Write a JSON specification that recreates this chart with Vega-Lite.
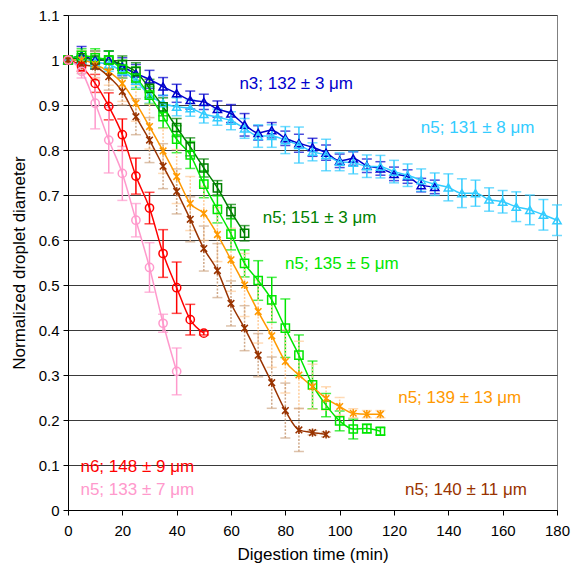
{
  "$schema": "https://vega.github.io/schema/vega-lite/v6.json",
  "width": 489,
  "height": 495,
  "autosize": {"type": "none"},
  "padding": {"left": 68, "top": 15, "right": 14, "bottom": 59},
  "background": "white",
  "config": {
    "font": "Liberation Sans",
    "view": {"stroke": "#808080", "strokeWidth": 1},
    "axis": {"labelFont": "Liberation Sans", "titleFont": "Liberation Sans", "labelFontSize": 15, "titleFontSize": 17, "titleFontWeight": "normal", "labelColor": "black", "titleColor": "black", "domainColor": "black", "tickColor": "black", "tickSize": 5}
  },
  "datasets": {
    "pts": [
      {"s":"B","t":0,"y":1.0,"e":0},{"s":"B","t":5,"y":1.01,"e":0.02},{"s":"B","t":10,"y":1.0,"e":0.02},{"s":"B","t":15,"y":1.0,"e":0.02},{"s":"B","t":20,"y":0.985,"e":0.02},{"s":"B","t":25,"y":0.97,"e":0.02},{"s":"B","t":30,"y":0.957,"e":0.02},{"s":"B","t":35,"y":0.941,"e":0.02},{"s":"B","t":40,"y":0.926,"e":0.02},{"s":"B","t":45,"y":0.911,"e":0.02},{"s":"B","t":50,"y":0.907,"e":0.017},{"s":"B","t":55,"y":0.891,"e":0.018},{"s":"B","t":60,"y":0.881,"e":0.02},{"s":"B","t":65,"y":0.856,"e":0.025},{"s":"B","t":70,"y":0.838,"e":0.016},{"s":"B","t":75,"y":0.844,"e":0.017},{"s":"B","t":80,"y":0.826,"e":0.016},{"s":"B","t":85,"y":0.815,"e":0.02},{"s":"B","t":90,"y":0.806,"e":0.02},{"s":"B","t":95,"y":0.794,"e":0.017},{"s":"B","t":100,"y":0.776,"e":0.015},{"s":"B","t":105,"y":0.781,"e":0.015},{"s":"B","t":110,"y":0.765,"e":0.015},{"s":"B","t":115,"y":0.759,"e":0.015},{"s":"B","t":120,"y":0.747,"e":0.015},{"s":"B","t":125,"y":0.741,"e":0.015},{"s":"B","t":130,"y":0.722,"e":0.015},{"s":"B","t":135,"y":0.718,"e":0.015},
      {"s":"C","t":0,"y":1.0,"e":0},{"s":"C","t":5,"y":1.0,"e":0.01},{"s":"C","t":10,"y":0.995,"e":0.012},{"s":"C","t":15,"y":0.99,"e":0.015},{"s":"C","t":20,"y":0.975,"e":0.015},{"s":"C","t":25,"y":0.954,"e":0.015},{"s":"C","t":30,"y":0.922,"e":0.018},{"s":"C","t":35,"y":0.904,"e":0.018},{"s":"C","t":40,"y":0.896,"e":0.02},{"s":"C","t":45,"y":0.893,"e":0.018},{"s":"C","t":50,"y":0.88,"e":0.02},{"s":"C","t":55,"y":0.873,"e":0.018},{"s":"C","t":60,"y":0.865,"e":0.02},{"s":"C","t":65,"y":0.848,"e":0.022},{"s":"C","t":70,"y":0.831,"e":0.025},{"s":"C","t":75,"y":0.831,"e":0.025},{"s":"C","t":80,"y":0.822,"e":0.03},{"s":"C","t":85,"y":0.811,"e":0.04},{"s":"C","t":90,"y":0.796,"e":0.02},{"s":"C","t":95,"y":0.789,"e":0.035},{"s":"C","t":100,"y":0.774,"e":0.02},{"s":"C","t":105,"y":0.772,"e":0.025},{"s":"C","t":110,"y":0.764,"e":0.025},{"s":"C","t":115,"y":0.763,"e":0.025},{"s":"C","t":120,"y":0.752,"e":0.025},{"s":"C","t":125,"y":0.744,"e":0.025},{"s":"C","t":130,"y":0.733,"e":0.025},{"s":"C","t":135,"y":0.724,"e":0.025},{"s":"C","t":140,"y":0.717,"e":0.03},{"s":"C","t":145,"y":0.704,"e":0.032},{"s":"C","t":150,"y":0.704,"e":0.029},{"s":"C","t":155,"y":0.69,"e":0.026},{"s":"C","t":160,"y":0.685,"e":0.025},{"s":"C","t":165,"y":0.674,"e":0.033},{"s":"C","t":170,"y":0.667,"e":0.033},{"s":"C","t":175,"y":0.656,"e":0.034},{"s":"C","t":180,"y":0.644,"e":0.034},
      {"s":"DG","t":0,"y":1.0,"e":0},{"s":"DG","t":5,"y":1.005,"e":0.015},{"s":"DG","t":10,"y":1.0,"e":0.02},{"s":"DG","t":15,"y":1.0,"e":0.02},{"s":"DG","t":20,"y":0.989,"e":0.02},{"s":"DG","t":25,"y":0.974,"e":0.02},{"s":"DG","t":30,"y":0.937,"e":0.02},{"s":"DG","t":35,"y":0.896,"e":0.02},{"s":"DG","t":40,"y":0.85,"e":0.02},{"s":"DG","t":45,"y":0.807,"e":0.02},{"s":"DG","t":50,"y":0.76,"e":0.02},{"s":"DG","t":55,"y":0.716,"e":0.016},{"s":"DG","t":60,"y":0.663,"e":0.016},{"s":"DG","t":65,"y":0.615,"e":0.017},
      {"s":"G","t":0,"y":1.0,"e":0},{"s":"G","t":5,"y":1.01,"e":0.015},{"s":"G","t":10,"y":1.005,"e":0.02},{"s":"G","t":15,"y":1.0,"e":0.02},{"s":"G","t":20,"y":0.98,"e":0.02},{"s":"G","t":25,"y":0.96,"e":0.025},{"s":"G","t":30,"y":0.922,"e":0.02},{"s":"G","t":35,"y":0.874,"e":0.025},{"s":"G","t":40,"y":0.824,"e":0.03},{"s":"G","t":45,"y":0.789,"e":0.03},{"s":"G","t":50,"y":0.724,"e":0.03},{"s":"G","t":55,"y":0.668,"e":0.03},{"s":"G","t":60,"y":0.613,"e":0.035},{"s":"G","t":65,"y":0.548,"e":0.03},{"s":"G","t":70,"y":0.51,"e":0.044},{"s":"G","t":75,"y":0.467,"e":0.05},{"s":"G","t":80,"y":0.404,"e":0.065},{"s":"G","t":85,"y":0.344,"e":0.045},{"s":"G","t":90,"y":0.278,"e":0.053},{"s":"G","t":95,"y":0.233,"e":0.026},{"s":"G","t":100,"y":0.198,"e":0.022},{"s":"G","t":105,"y":0.18,"e":0.022},{"s":"G","t":110,"y":0.181,"e":0.01},{"s":"G","t":115,"y":0.175,"e":0.008},
      {"s":"O","t":0,"y":1.0,"e":0},{"s":"O","t":5,"y":1.0,"e":0.02},{"s":"O","t":10,"y":0.99,"e":0.03},{"s":"O","t":15,"y":0.974,"e":0.03},{"s":"O","t":20,"y":0.948,"e":0.04},{"s":"O","t":25,"y":0.904,"e":0.04},{"s":"O","t":30,"y":0.852,"e":0.05},{"s":"O","t":35,"y":0.798,"e":0.05},{"s":"O","t":40,"y":0.741,"e":0.06},{"s":"O","t":45,"y":0.681,"e":0.06},{"s":"O","t":50,"y":0.659,"e":0.06},{"s":"O","t":55,"y":0.612,"e":0.06},{"s":"O","t":60,"y":0.556,"e":0.07},{"s":"O","t":65,"y":0.5,"e":0.07},{"s":"O","t":70,"y":0.441,"e":0.07},{"s":"O","t":75,"y":0.387,"e":0.07},{"s":"O","t":80,"y":0.33,"e":0.07},{"s":"O","t":85,"y":0.3,"e":0.075},{"s":"O","t":90,"y":0.274,"e":0.05},{"s":"O","t":95,"y":0.248,"e":0.026},{"s":"O","t":100,"y":0.23,"e":0.02},{"s":"O","t":105,"y":0.215,"e":0.01},{"s":"O","t":110,"y":0.213,"e":0.008},{"s":"O","t":115,"y":0.213,"e":0.008},
      {"s":"Br","t":0,"y":1.0,"e":0},{"s":"Br","t":5,"y":0.99,"e":0.02},{"s":"Br","t":10,"y":0.985,"e":0.03},{"s":"Br","t":15,"y":0.963,"e":0.03},{"s":"Br","t":20,"y":0.93,"e":0.03},{"s":"Br","t":25,"y":0.874,"e":0.04},{"s":"Br","t":30,"y":0.822,"e":0.05},{"s":"Br","t":35,"y":0.764,"e":0.05},{"s":"Br","t":40,"y":0.708,"e":0.05},{"s":"Br","t":45,"y":0.646,"e":0.05},{"s":"Br","t":50,"y":0.581,"e":0.05},{"s":"Br","t":55,"y":0.532,"e":0.06},{"s":"Br","t":60,"y":0.459,"e":0.05},{"s":"Br","t":65,"y":0.404,"e":0.05},{"s":"Br","t":70,"y":0.344,"e":0.048},{"s":"Br","t":75,"y":0.283,"e":0.057},{"s":"Br","t":80,"y":0.221,"e":0.061},{"s":"Br","t":85,"y":0.178,"e":0.048},{"s":"Br","t":90,"y":0.172,"e":0.005},{"s":"Br","t":95,"y":0.168,"e":0.005},
      {"s":"R","t":0,"y":1.0,"e":0},{"s":"R","t":5,"y":0.985,"e":0.01},{"s":"R","t":10,"y":0.948,"e":0.02},{"s":"R","t":15,"y":0.897,"e":0.03},{"s":"R","t":20,"y":0.834,"e":0.035},{"s":"R","t":25,"y":0.742,"e":0.04},{"s":"R","t":30,"y":0.671,"e":0.035},{"s":"R","t":35,"y":0.57,"e":0.053},{"s":"R","t":40,"y":0.494,"e":0.057},{"s":"R","t":45,"y":0.423,"e":0.034},{"s":"R","t":50,"y":0.393,"e":0.004},
      {"s":"P","t":0,"y":1.0,"e":0},{"s":"P","t":5,"y":0.975,"e":0.015},{"s":"P","t":10,"y":0.904,"e":0.057},{"s":"P","t":15,"y":0.822,"e":0.073},{"s":"P","t":20,"y":0.748,"e":0.06},{"s":"P","t":25,"y":0.644,"e":0.037},{"s":"P","t":30,"y":0.539,"e":0.055},{"s":"P","t":35,"y":0.415,"e":0.02},{"s":"P","t":40,"y":0.308,"e":0.052}
    ],
    "labels": [
      {"s":"B","t":84,"y":0.947,"txt":"n3; 132 ± 3 μm"},
      {"s":"C","t":150.8,"y":0.849,"txt":"n5; 131 ± 8 μm"},
      {"s":"DG","t":92.6,"y":0.649,"txt":"n5; 151 ± 3 μm"},
      {"s":"G","t":100.8,"y":0.547,"txt":"n5; 135 ± 5 μm"},
      {"s":"O","t":144.2,"y":0.249,"txt":"n5; 139 ± 13 μm"},
      {"s":"R","t":25.5,"y":0.095,"txt":"n6; 148 ± 9 μm"},
      {"s":"P","t":25.5,"y":0.045,"txt":"n5; 133 ± 7 μm"},
      {"s":"Br","t":146.5,"y":0.045,"txt":"n5; 140 ± 11 μm"}
    ]
  },
  "encoding": {
    "x": {"field": "t", "type": "quantitative", "scale": {"domain": [0, 180], "nice": false}, "axis": {"title": "Digestion time (min)", "values": [0,20,40,60,80,100,120,140,160,180], "format": "d", "grid": false, "labelPadding": 8, "titlePadding": 8, "labelFlush": false}},
    "y": {"field": "y", "type": "quantitative", "scale": {"domain": [0, 1.1], "nice": false, "zero": false}, "axis": {"title": "Normalized droplet diameter", "values": [0,0.1,0.2,0.3,0.4,0.5,0.6,0.7,0.8,0.9,1,1.1], "format": "~g", "grid": true, "gridColor": "#3a3a3a", "gridWidth": 1, "labelPadding": 4, "titlePadding": 10, "labelFlush": false}},
    "color": {"field": "s", "type": "nominal", "legend": null, "scale": {"domain": ["B","C","DG","G","O","Br","R","P"], "range": ["#0000CC","#33CCFF","#008000","#00E600","#FF9900","#993300","#FF0000","#FF99CC"]}}
  },
  "layer": [
    {
      "data": {"name": "pts"},
      "transform": [{"filter": "datum.e > 0 && datum.s != 'O' && datum.s != 'Br'"}],
      "mark": {"type": "errorbar", "ticks": true, "size": 10, "thickness": 1.5},
      "encoding": {"yError": {"field": "e"}}
    },
    {
      "data": {"name": "pts"},
      "transform": [{"filter": "datum.e > 0 && datum.s == 'O'"}],
      "mark": {"type": "errorbar", "color": "#FFCC99", "ticks": {"strokeDash": [2, 1.5]}, "rule": {"strokeDash": [2, 1.5]}, "size": 10, "thickness": 1.5},
      "encoding": {"yError": {"field": "e"}, "color": {"value": "#FFCC99"}}
    },
    {
      "data": {"name": "pts"},
      "transform": [{"filter": "datum.e > 0 && datum.s == 'Br'"}],
      "mark": {"type": "errorbar", "color": "#CFA888", "ticks": {"strokeDash": [2, 1.5]}, "rule": {"strokeDash": [2, 1.5]}, "size": 10, "thickness": 1.5},
      "encoding": {"yError": {"field": "e"}, "color": {"value": "#CFA888"}}
    },
    {
      "data": {"name": "pts"},
      "mark": {"type": "line", "strokeWidth": 1.5, "interpolate": "monotone"},
      "encoding": {"detail": {"field": "s"}}
    },
    {
      "data": {"name": "pts"},
      "mark": {"type": "point", "filled": false, "strokeWidth": 1.5, "opacity": 1},
      "encoding": {
        "shape": {"field": "s", "type": "nominal", "legend": null, "scale": {"domain": ["B","C","DG","G","O","Br","R","P"], "range": ["triangle-up","triangle-up","square","square","M-0.8,-0.8L0.8,0.8M-0.8,0.8L0.8,-0.8M0,-1L0,1","M-0.8,-0.8L0.8,0.8M-0.8,0.8L0.8,-0.8M0,-1L0,1","circle","circle"]}},
        "size": {"value": 68}
      }
    },
    {
      "data": {"name": "labels"},
      "mark": {"type": "text", "fontSize": 17, "font": "Liberation Sans", "align": "center", "baseline": "middle"},
      "encoding": {"text": {"field": "txt"}}
    }
  ]
}
